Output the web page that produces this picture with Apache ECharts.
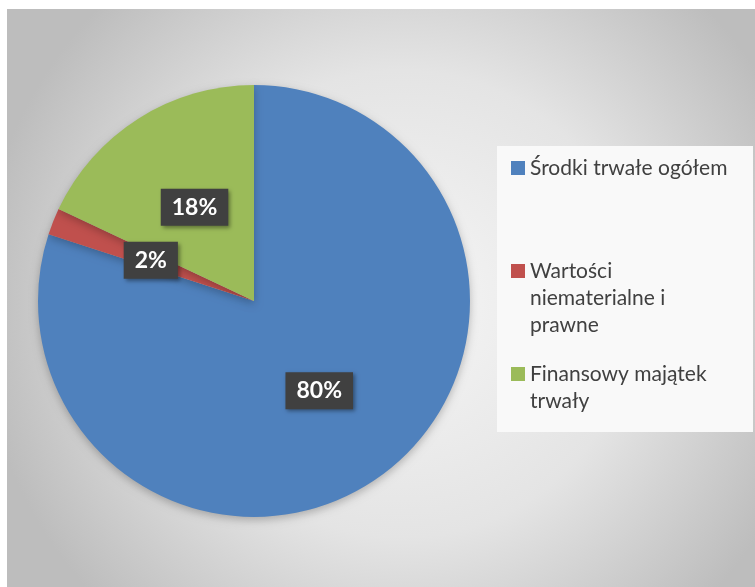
<!DOCTYPE html>
<html>
<head>
<meta charset="utf-8">
<script src="https://cdn.jsdelivr.net/npm/echarts@6/dist/echarts.min.js"></script>
<style>
    html, body { margin: 0; padding: 0; background: #ffffff; }
    #chart { width: 755px; height: 587px; }
</style>
</head>
<body>
<div id="chart"></div>
<script>
    'use strict';

    var categories = ['Środki trwałe ogółem', 'Wartości niematerialne i prawne', 'Finansowy majątek trwały'];
    var legendLabels = ['Środki trwałe ogółem', 'Wartości\nniematerialne i\nprawne', 'Finansowy majątek\ntrwały'];
    var shares = [80, 2, 18];
    var colors = ['#4f81bd', '#c0504d', '#9bbb59'];

    var FONT = 'Lato';
    var LINE_H = 27;
    var legendIconY = [168, 271, 374];

    function buildPieData() {
        var data = [];
        for (var i = 0; i < categories.length; i++) {
            data.push({
                name: categories[i],
                value: shares[i],
                itemStyle: {color: colors[i]}
            });
        }
        return data;
    }

    // one legend per entry; blank lines in front keep the icon on the first line
    function buildLegends() {
        var legends = [];
        for (var i = 0; i < categories.length; i++) {
            var lines = legendLabels[i].split('\n').length;
            var text = new Array(lines).join('\n') + legendLabels[i];
            var boxH = (2 * lines - 1) * LINE_H;
            legends.push({
                orient: 'vertical',
                left: 511,
                top: legendIconY[i] - boxH / 2,
                padding: 0,
                itemWidth: 14,
                itemHeight: 14,
                icon: 'rect',
                selectedMode: false,
                formatter: (function (label) {
                    return function () { return label; };
                })(text),
                data: [categories[i]],
                textStyle: {
                    fontFamily: FONT,
                    fontSize: 21,
                    lineHeight: LINE_H,
                    color: '#404040'
                }
            });
        }
        return legends;
    }

    var chart = echarts.init(document.getElementById('chart'));
    chart.setOption({
        animation: false,
        graphic: [{
            type: 'rect',
            z: -10,
            silent: true,
            shape: {x: 7, y: 9, width: 760, height: 590},
            style: {
                fill: new echarts.graphic.RadialGradient(0.52, 0.5, 0.72, [
                    {offset: 0, color: '#f6f6f6'},
                    {offset: 0.55, color: '#e4e4e4'},
                    {offset: 1, color: '#bdbdbd'}
                ])
            }
        }, {
            type: 'rect',
            z: -9,
            silent: true,
            shape: {x: 497, y: 146, width: 256, height: 286},
            style: {fill: '#f9f9f9'}
        }],
        legend: buildLegends(),
        series: [{
            type: 'pie',
            center: [254, 301],
            radius: 216,
            startAngle: 90,
            clockwise: true,
            data: buildPieData(),
            itemStyle: {
                shadowBlur: 8,
                shadowColor: 'rgba(0,0,0,0.25)',
                shadowOffsetY: 3
            },
            label: {
                position: 'inside',
                formatter: '{c}%',
                fontFamily: FONT,
                fontSize: 23,
                fontWeight: 'bold',
                color: '#ffffff',
                backgroundColor: '#404040',
                padding: [8, 11, 6, 11],
                shadowBlur: 4,
                shadowColor: 'rgba(0,0,0,0.4)',
                shadowOffsetX: 2,
                shadowOffsetY: 2
            },
            labelLine: {show: false},
            emphasis: {disabled: true}
        }]
    });
</script>
</body>
</html>
